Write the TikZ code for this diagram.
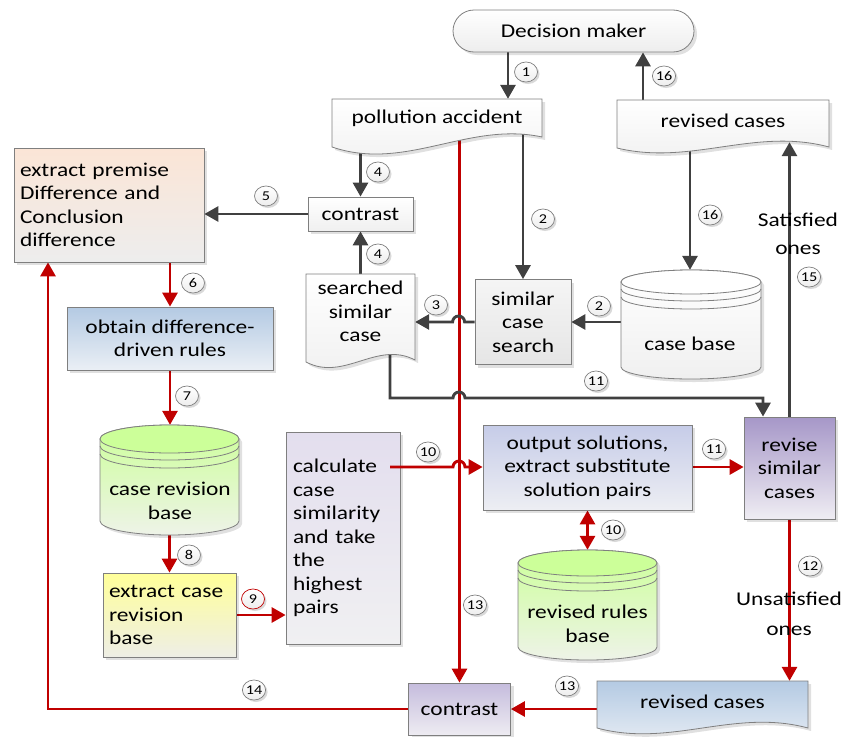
\documentclass[tikz,border=0pt]{standalone}
\usepackage{fontspec}
\setmainfont{Carlito}[FakeStretch=1.2]
\usetikzlibrary{arrows.meta,calc,shadows,shapes.geometric}
\pgfdeclarelayer{bg}
\pgfsetlayers{bg,main}

\definecolor{dk}{HTML}{404040}
\definecolor{rd}{HTML}{C00000}
\definecolor{bd}{HTML}{7F7F7F}
\definecolor{peach}{HTML}{FBE5D6}
\definecolor{pbot}{HTML}{EDEDED}
\definecolor{btop}{HTML}{B4CAE3}
\definecolor{bbot}{HTML}{EAEFF5}
\definecolor{grtop}{HTML}{CCFF99}
\definecolor{grbot}{HTML}{EEF3E8}
\definecolor{ytop}{HTML}{FFFF99}
\definecolor{ybot}{HTML}{EEEEE6}
\definecolor{lvtop}{HTML}{E3DEEE}
\definecolor{lvbot}{HTML}{F0F0F2}
\definecolor{ottop}{HTML}{C6CCE8}
\definecolor{otbot}{HTML}{EDEEF3}
\definecolor{pptop}{HTML}{A697C8}
\definecolor{ppbot}{HTML}{EFEDF3}
\definecolor{cttop}{HTML}{C5BCDD}
\definecolor{ctbot}{HTML}{EEECF2}

% document shape: style, x0, ytop, x1, yLeft, yRight, trough, crest
\newcommand\docshape[8]{\path[shp,#1] (#2,#3) -- (#4,#3) -- (#4,#6) .. controls ({#2+0.65*(#4-#2)},{#6-#8}) and ({#2+0.35*(#4-#2)},{#5+#7}) .. (#2,#5) -- cycle;}
% cylinder: style, cx, rx, ytop, ybot, ry, top fill
\newcommand\cylshape[7]{%
 \path[shp,#1] ({#2-#3},{#4+#6}) -- ({#2-#3},{#5-#6}) arc[start angle=180,end angle=360,x radius=#3pt,y radius=#6pt] -- ({#2+#3},{#4+#6}) arc[start angle=0,end angle=180,x radius=#3pt,y radius=#6pt] -- cycle;
 \path[draw=bd,line width=0.8pt,fill=#7] (#2,{#4+#6}) ellipse[x radius=#3pt,y radius=#6pt];
 \draw[bd,line width=0.8pt] ({#2-#3},{#4+#6+7}) arc[start angle=180,end angle=360,x radius=#3pt,y radius=#6pt];
 \draw[bd,line width=0.8pt] ({#2-#3},{#4+#6+15}) arc[start angle=180,end angle=360,x radius=#3pt,y radius=#6pt];
}

\begin{document}
\begin{tikzpicture}[x=1pt,y=-1pt,
  every node/.style={font=\fontsize{19.5}{23.5}\selectfont,text=black},
  shp/.style={draw=bd,line width=0.8pt,drop shadow={shadow xshift=3pt,shadow yshift=-3pt,fill=black,opacity=0.12}},
  box/.style={shp,rectangle,inner sep=0pt,align=center},
  darr/.style={draw=dk,line width=2.9pt,-{Triangle[length=14pt,width=15pt]}},
  rarr/.style={draw=rd,line width=2.9pt,-{Triangle[length=14pt,width=15pt]}},
  num/.style={ellipse,draw=bd,line width=0.7pt,minimum width=23pt,minimum height=20pt,inner sep=0pt,top color=white,bottom color=gray!14,font=\fontsize{13.5}{13.5}\selectfont,drop shadow={shadow xshift=2pt,shadow yshift=-2pt,fill=black,opacity=0.15}}
]
\useasboundingbox (0,0) rectangle (858,736);

% column / row helpers
\coordinate (c508) at (508,0);
\coordinate (c643) at (643,0);
\coordinate (c690) at (690,0);
\coordinate (c390) at (390,0);
\coordinate (c763) at (763,0);
\coordinate (c48) at (48,0);
\coordinate (r398) at (0,398);
\coordinate (r467) at (0,467);

% ---- shapes ----
\node[box,rounded corners=21pt,minimum width=241pt,minimum height=42pt,top color=white,bottom color=gray!14] (dm) at (573.5,31) {Decision maker};

\docshape{top color=white,bottom color=gray!12}{332}{99}{542}{147}{137}{25}{16}
\node[minimum width=210pt,minimum height=38pt,inner sep=0pt] (pa) at (437,118) {pollution accident};

\docshape{top color=white,bottom color=gray!12}{617}{100}{829}{148}{147}{18}{20}
\node[minimum width=212pt,minimum height=42pt,inner sep=0pt] (rc1) at (723,121) {revised cases};

\docshape{top color=white,bottom color=gray!12}{306}{274}{415}{362}{360}{20}{20}
\node[minimum width=109pt,minimum height=75pt,inner sep=0pt,align=center] (ssc) at (360.5,311.5) {searched\\similar\\case};

\docshape{top color=btop,bottom color=bbot}{597}{681}{808}{728}{728}{20}{20}
\node[minimum width=211pt,minimum height=42pt,inner sep=0pt] (rc2) at (702.5,702) {revised cases};

\node[box,top color=white,bottom color=gray!12,minimum width=105pt,minimum height=34pt] (con1) at (360.5,214) {contrast};

\node[box,top color=peach,bottom color=pbot,text width=178pt,inner xsep=6pt,minimum height=114pt,align=left] (epd) at (109,205) {extract premise\\Difference and\\Conclusion\\difference};

\node[box,top color=btop,bottom color=bbot,minimum width=206pt,minimum height=63pt] (obt) at (170,338.5) {obtain difference-\\driven rules};

\cylshape{top color=grtop,bottom color=grbot}{169.5}{69.5}{425}{535}{14}{grtop}
\node[minimum width=139pt,minimum height=110pt,inner sep=0pt] (crb) at (169.5,480) {};
\node[align=center] (crbt) at (170,501) {case revision\\base};

\node[box,top color=ytop,bottom color=ybot,text width=121pt,inner xsep=6pt,minimum height=84pt,align=left] (ecrb) at (169.5,615) {extract case\\revision\\base};

\node[box,top color=lvtop,bottom color=lvbot,text width=100pt,inner xsep=7pt,minimum height=212pt,align=left] (calc) at (343,538) {calculate\\case\\similarity\\and take\\the\\highest\\pairs};

\node[box,top color=gray!8,bottom color=gray!20,minimum width=96pt,minimum height=85pt] (scs) at (523,322) {similar\\case\\search};

\cylshape{top color=white,bottom color=gray!12}{691}{70}{270}{379}{12}{white}
\node[minimum width=140pt,minimum height=109pt,inner sep=0pt] (cb) at (691,324.5) {};
\node (cbt) at (690,344) {case base};

\node[box,top color=ottop,bottom color=otbot,minimum width=209pt,minimum height=85pt] (out) at (587.5,467.5) {output solutions,\\extract substitute\\solution pairs};

\node[box,top color=pptop,bottom color=ppbot,minimum width=91pt,minimum height=102pt] (rev) at (789.5,468) {revise\\similar\\cases};

\cylshape{top color=grtop,bottom color=grbot}{587.5}{69.5}{550}{660}{13}{grtop}
\node[minimum width=139pt,minimum height=110pt,inner sep=0pt] (rrb) at (587.5,605) {};
\node[align=center] (rrbt) at (587.5,624) {revised rules\\base};

\node[box,top color=cttop,bottom color=ctbot,minimum width=102pt,minimum height=52pt] (con2) at (459.5,709) {contrast};

% ---- connectors ----
\begin{pgfonlayer}{bg}
\draw[rarr] (pa.center -| con2.north) -- (con2.north);
\draw[darr] (dm.south -| c508) -- (pa.north -| c508);
\draw[darr] (rc1.north -| c643) -- (dm.south -| c643);
\draw[darr] (rc1.center -| c690) -- (cb.north -| c690);
\draw[darr] (rev.north) -- (rc1.south -| rev.north);
\draw[darr] (pa.center -| con1.north) -- (con1.north);
\draw[darr] (ssc.north -| con1.south) -- (con1.south);
\draw[darr] (con1.west) -- (epd.east |- con1.west);
\draw[darr] (pa.center -| scs.north) -- (scs.north);
\draw[darr] (cb.center |- scs.east) -- (scs.east);
\draw[darr] (scs.west) -- ++(-10,0) arc[start angle=0,end angle=180,radius=6pt] -- (ssc.east |- scs.west);
\draw[darr] (ssc.center -| c390) -- (c390 |- r398) -- ++(63,0) arc[start angle=180,end angle=0,radius=6pt] -- (c763 |- r398) -- (rev.north -| c763);
\draw[rarr] (out.east |- r467) -- (rev.west |- r467);
\draw[rarr,{Triangle[length=14pt,width=15pt]}-{Triangle[length=14pt,width=15pt]}] (out.south) -- (rrb.north -| out.south);
\draw[rarr] (rev.south) -- (rc2.north -| rev.south);
\draw[rarr] (rc2.center |- con2.east) -- (con2.east);
\draw[rarr] (con2.west) -- (c48 |- con2.west) -- (epd.south -| c48);
\draw[rarr] (epd.south -| obt.north) -- (obt.north);
\draw[rarr] (obt.south) -- (crb.north -| obt.south);
\draw[rarr] (crb.south -| ecrb.north) -- (ecrb.north);
\draw[rarr] (ecrb.east) -- (calc.west |- ecrb.east);
\end{pgfonlayer}
\draw[rarr] (c390 |- r467) -- ++(63,0) arc[start angle=180,end angle=0,radius=6pt] -- (out.west |- r467);

% ---- labels ----
\node[num] (l1) at (526,72) {1};
\node[num] (l16a) at (664,76) {16};
\node[num] (l2a) at (543,219) {2};
\node[num] (l16b) at (710,215) {16};
\node[num] (l15) at (809,277) {15};
\node[num] (l2b) at (599,306) {2};
\node[num] (l3) at (436,305) {3};
\node[num] (l11a) at (596,381) {11};
\node[num] (l4a) at (378,172) {4};
\node[num] (l4b) at (378,254) {4};
\node[num] (l5) at (266,196) {5};
\node[num] (l6) at (193,283) {6};
\node[num] (l7) at (187,396) {7};
\node[num] (l8) at (189,555) {8};
\node[num,draw=rd] (l9) at (253,599) {9};
\node[num] (l10a) at (428,452) {10};
\node[num] (l11b) at (714,449) {11};
\node[num] (l10b) at (613,530) {10};
\node[num] (l12) at (810,566) {12};
\node[num] (l13a) at (475,605) {13};
\node[num] (l13b) at (567,686) {13};
\node[num] (l14) at (254,690) {14};

\node[align=center] (sat) at (798,234) {Satisfied\\[4pt]ones};
\node[align=center] (unsat) at (789,614) {Unsatisfied\\[6pt]ones};
\end{tikzpicture}
\end{document}
